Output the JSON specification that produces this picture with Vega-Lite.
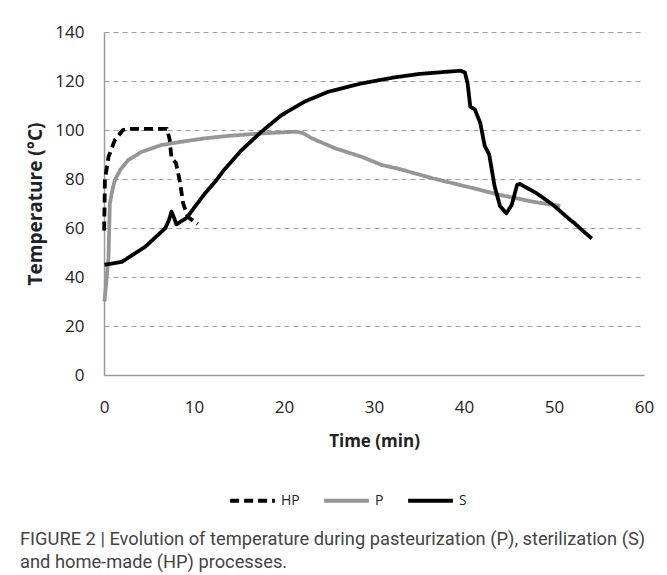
{
  "$schema": "https://vega.github.io/schema/vega-lite/v6.json",
  "autosize": "none",
  "width": 540,
  "height": 343,
  "padding": {"left": 104, "top": 32, "right": 23, "bottom": 200},
  "background": "white",
  "title": {
    "text": ["FIGURE 2 | Evolution of temperature during pasteurization (P), sterilization (S)", "and home-made (HP) processes."],
    "orient": "bottom",
    "anchor": "start",
    "frame": "group",
    "baseline": "top",
    "dx": -84,
    "offset": 22,
    "font": "Roboto",
    "fontSize": 18.3,
    "fontWeight": "normal",
    "color": "#444444",
    "lineHeight": 23
  },
  "config": {
    "view": {"stroke": null},
    "axis": {"labelFont": "Open Sans", "titleFont": "Open Sans", "labelColor": "#222222", "titleColor": "#222222"}
  },
  "data": {
    "values": [
      {"s": "HP", "t": 0.02, "T": 59},
      {"s": "HP", "t": 0.1, "T": 79.6},
      {"s": "HP", "t": 0.5, "T": 89},
      {"s": "HP", "t": 1.2, "T": 95.9},
      {"s": "HP", "t": 2.1, "T": 100},
      {"s": "HP", "t": 2.7, "T": 100.5},
      {"s": "HP", "t": 7.0, "T": 100.5},
      {"s": "HP", "t": 7.3, "T": 96},
      {"s": "HP", "t": 7.5, "T": 88.5},
      {"s": "HP", "t": 8.0, "T": 86.5},
      {"s": "HP", "t": 8.4, "T": 79.6},
      {"s": "HP", "t": 8.8, "T": 70},
      {"s": "HP", "t": 9.3, "T": 64.6},
      {"s": "HP", "t": 10.4, "T": 61.6},
      {"s": "P", "t": 0.05, "T": 30},
      {"s": "P", "t": 0.3, "T": 40},
      {"s": "P", "t": 0.5, "T": 48},
      {"s": "P", "t": 0.65, "T": 70},
      {"s": "P", "t": 0.9, "T": 75},
      {"s": "P", "t": 1.2, "T": 79.5},
      {"s": "P", "t": 1.8, "T": 83.7},
      {"s": "P", "t": 2.7, "T": 87.8},
      {"s": "P", "t": 4.2, "T": 91.1},
      {"s": "P", "t": 6.4, "T": 93.9},
      {"s": "P", "t": 8.6, "T": 95.2},
      {"s": "P", "t": 11.2, "T": 96.6},
      {"s": "P", "t": 13.8, "T": 97.6},
      {"s": "P", "t": 17.5, "T": 98.6},
      {"s": "P", "t": 21.2, "T": 99.3},
      {"s": "P", "t": 22, "T": 98.9},
      {"s": "P", "t": 23.1, "T": 96.6},
      {"s": "P", "t": 25.7, "T": 92.5},
      {"s": "P", "t": 28.6, "T": 89.1},
      {"s": "P", "t": 30.9, "T": 85.7},
      {"s": "P", "t": 32.9, "T": 84},
      {"s": "P", "t": 36.6, "T": 80.2},
      {"s": "P", "t": 40.3, "T": 76.9},
      {"s": "P", "t": 44, "T": 73.5},
      {"s": "P", "t": 47.7, "T": 70.7},
      {"s": "P", "t": 50.7, "T": 69},
      {"s": "S", "t": 0.05, "T": 45},
      {"s": "S", "t": 2, "T": 46.2},
      {"s": "S", "t": 4.6, "T": 52.4},
      {"s": "S", "t": 6.8, "T": 59.9},
      {"s": "S", "t": 7.2, "T": 63},
      {"s": "S", "t": 7.5, "T": 66.7},
      {"s": "S", "t": 7.8, "T": 64},
      {"s": "S", "t": 8.05, "T": 61.5},
      {"s": "S", "t": 9.2, "T": 64.2},
      {"s": "S", "t": 10.1, "T": 68.7},
      {"s": "S", "t": 11.2, "T": 74},
      {"s": "S", "t": 12.5, "T": 79.6},
      {"s": "S", "t": 13.3, "T": 83.5},
      {"s": "S", "t": 15.3, "T": 91.8},
      {"s": "S", "t": 17.4, "T": 99},
      {"s": "S", "t": 19.7, "T": 106},
      {"s": "S", "t": 22.3, "T": 111.6},
      {"s": "S", "t": 24.9, "T": 115.6},
      {"s": "S", "t": 28.6, "T": 119},
      {"s": "S", "t": 32.3, "T": 121.5},
      {"s": "S", "t": 35.1, "T": 122.9},
      {"s": "S", "t": 39.6, "T": 124.2},
      {"s": "S", "t": 40.1, "T": 123.5},
      {"s": "S", "t": 40.4, "T": 119},
      {"s": "S", "t": 40.7, "T": 109.5},
      {"s": "S", "t": 41.2, "T": 108.4},
      {"s": "S", "t": 41.8, "T": 103},
      {"s": "S", "t": 42.3, "T": 93.5},
      {"s": "S", "t": 42.8, "T": 90},
      {"s": "S", "t": 43.4, "T": 77},
      {"s": "S", "t": 44, "T": 69},
      {"s": "S", "t": 44.7, "T": 66},
      {"s": "S", "t": 45.3, "T": 69.4},
      {"s": "S", "t": 45.9, "T": 77.6},
      {"s": "S", "t": 46.2, "T": 78},
      {"s": "S", "t": 48.1, "T": 74.1},
      {"s": "S", "t": 49.9, "T": 69.4},
      {"s": "S", "t": 51.8, "T": 63.3},
      {"s": "S", "t": 52.3, "T": 61.9},
      {"s": "S", "t": 53.1, "T": 59.2},
      {"s": "S", "t": 54.2, "T": 55.7}
    ]
  },
  "mark": {"type": "line", "strokeWidth": 3.8, "strokeJoin": "round", "strokeCap": "butt"},
  "encoding": {
    "x": {
      "field": "t", "type": "quantitative",
      "scale": {"domain": [0, 60], "nice": false},
      "axis": {
        "values": [0, 10, 20, 30, 40, 50, 60],
        "title": "Time (min)", "titleFontSize": 17, "titleFontWeight": "bold", "titlePadding": 18,
        "labelFontSize": 17, "labelPadding": 24, "ticks": false, "tickSize": 0,
        "grid": false, "domainColor": "#9a9a9a", "domainWidth": 1.5, "labelFlush": false
      }
    },
    "y": {
      "field": "T", "type": "quantitative",
      "scale": {"domain": [0, 140], "nice": false},
      "axis": {
        "values": [0, 20, 40, 60, 80, 100, 120, 140],
        "title": "Temperature (°C)", "titleFontSize": 19, "titleFontWeight": "bold", "titlePadding": 9,
        "labelFontSize": 17, "labelPadding": 20, "ticks": false, "tickSize": 0,
        "grid": true, "gridColor": "#a0a0a0", "gridDash": [5, 4], "gridWidth": 1.2,
        "domainColor": "#9a9a9a", "domainWidth": 1.5, "labelFlush": false
      }
    },
    "color": {
      "field": "s", "type": "nominal",
      "scale": {"domain": ["HP", "P", "S"], "range": ["#000000", "#969696", "#000000"]},
      "legend": {
        "title": null, "orient": "none", "direction": "horizontal",
        "legendX": 124, "legendY": 444,
        "symbolType": "stroke", "symbolSize": 2000, "symbolStrokeWidth": 4,
        "labelFont": "Open Sans", "labelFontSize": 14, "labelColor": "#222222", "labelOffset": 4,
        "columnPadding": 16
      }
    },
    "strokeDash": {
      "field": "s", "type": "nominal",
      "scale": {"domain": ["HP", "P", "S"], "range": [[9, 5], [1, 0], [1, 0]]},
      "legend": null
    }
  }
}
